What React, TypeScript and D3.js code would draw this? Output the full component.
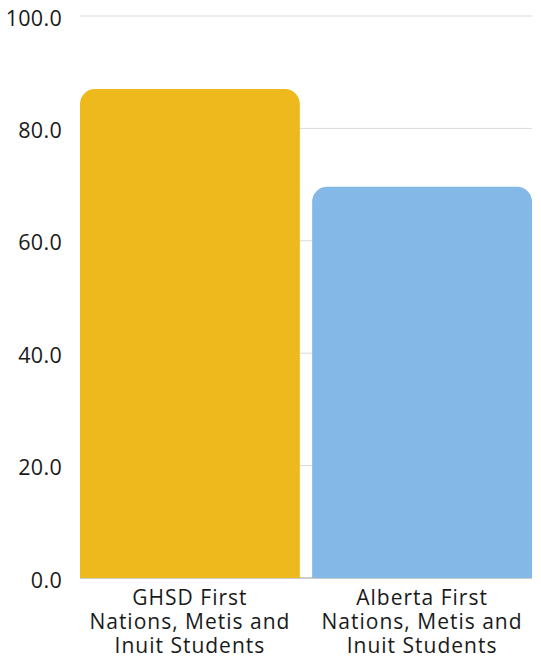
import React from "react";
import * as d3 from "d3";

const categories: string[][] = [
  ["GHSD First", "Nations, Metis and", "Inuit Students"],
  ["Alberta First", "Nations, Metis and", "Inuit Students"],
];
const values: number[] = [87.0, 69.6];
const colors: string[] = ["#EDB91C", "#84B8E6"];
const yTicks: number[] = [0, 20, 40, 60, 80, 100];

const W = 541;
const H = 656;
const left = 80;
const right = 532;
const top = 16;
const bottom = 578;
const FONT = "'Open Sans', sans-serif";

function topRoundedRect(x: number, y: number, w: number, h: number, r: number) {
  const p = d3.path();
  p.moveTo(x, y + h);
  p.lineTo(x, y + r);
  p.arcTo(x, y, x + r, y, r);
  p.lineTo(x + w - r, y);
  p.arcTo(x + w, y, x + w, y + r, r);
  p.lineTo(x + w, y + h);
  p.closePath();
  return p.toString();
}

export default function App() {
  const x = d3
    .scaleBand<number>()
    .domain(values.map((_, i) => i))
    .range([left, right])
    .paddingInner(0.053)
    .paddingOuter(0);
  const y = d3.scaleLinear().domain([0, 100]).range([bottom, top]);

  return (
    <svg
      width={W}
      height={H}
      style={{ position: "absolute", left: 0, top: 0, background: "#fff" }}
    >
      {yTicks.map((t) => (
        <g key={t}>
          <line
            x1={left}
            x2={right}
            y1={y(t)}
            y2={y(t)}
            stroke={t === 0 ? "#9a9a9a" : "#d9d9d9"}
            strokeWidth={1}
          />
          <text
            x={62}
            y={y(t) + 1}
            textAnchor="end"
            dominantBaseline="central"
            fontFamily={FONT}
            fontSize={21.5}
            letterSpacing={0.3}
            fill="#1a1a1a"
          >
            {t.toFixed(1)}
          </text>
        </g>
      ))}
      {values.map((v, i) => (
        <path
          key={i}
          d={topRoundedRect(x(i)!, y(v), x.bandwidth(), y(0) - y(v), 15)}
          fill={colors[i]}
        />
      ))}
      {categories.map((lines, i) => (
        <text
          key={i}
          textAnchor="middle"
          fontFamily={FONT}
          fontSize={21}
          letterSpacing={1}
          fill="#1a1a1a"
        >
          {lines.map((ln, j) => (
            <tspan key={j} x={x(i)! + x.bandwidth() / 2} y={605 + j * 24}>
              {ln}
            </tspan>
          ))}
        </text>
      ))}
    </svg>
  );
}
